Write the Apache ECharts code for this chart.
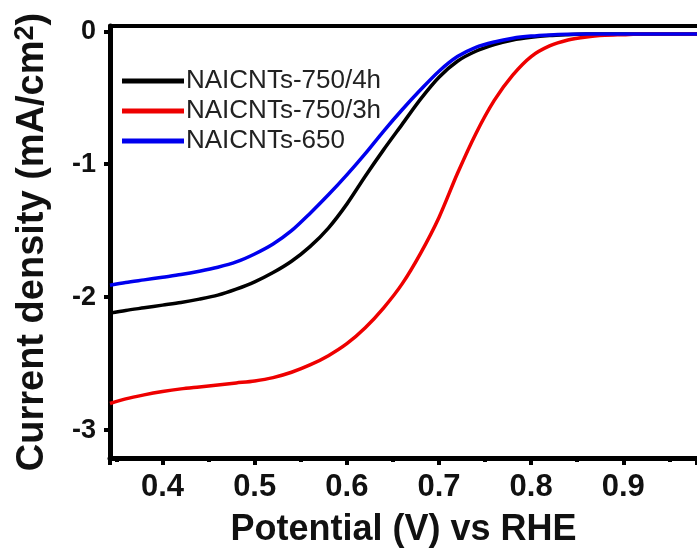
<!DOCTYPE html>
<html>
<head>
<meta charset="utf-8">
<script src="https://cdn.jsdelivr.net/npm/echarts@6/dist/echarts.min.js"></script>
<style>html,body{margin:0;padding:0;background:#fff}#c{width:697px;height:553px}</style>
</head>
<body>
<div id="c"></div>
<script>
var potential = [0.343,0.36,0.38,0.40,0.42,0.44,0.46,0.48,0.50,0.52,0.54,0.56,0.58,0.60,0.62,0.64,0.66,0.68,0.70,0.72,0.74,0.76,0.78,0.80,0.82,0.84,0.86,0.88,0.90,0.92,0.94,0.96,0.98];
var cnt750_4h = [-2.12,-2.10,-2.08,-2.06,-2.04,-2.015,-1.985,-1.94,-1.885,-1.815,-1.73,-1.62,-1.48,-1.30,-1.09,-0.89,-0.70,-0.51,-0.345,-0.225,-0.15,-0.10,-0.065,-0.045,-0.032,-0.025,-0.02,-0.02,-0.02,-0.02,-0.02,-0.02,-0.02];
var cnt750_3h = [-2.80,-2.765,-2.735,-2.71,-2.69,-2.675,-2.66,-2.645,-2.63,-2.605,-2.565,-2.51,-2.44,-2.35,-2.23,-2.08,-1.90,-1.67,-1.40,-1.07,-0.77,-0.52,-0.33,-0.19,-0.11,-0.065,-0.042,-0.03,-0.025,-0.02,-0.02,-0.02,-0.02];
var cnt650 = [-1.91,-1.89,-1.87,-1.85,-1.83,-1.805,-1.775,-1.735,-1.675,-1.60,-1.50,-1.37,-1.23,-1.08,-0.92,-0.75,-0.59,-0.44,-0.30,-0.19,-0.12,-0.08,-0.052,-0.036,-0.027,-0.022,-0.02,-0.02,-0.02,-0.02,-0.02,-0.02,-0.02];
var seriesNames = ['NAICNTs-750/4h','NAICNTs-750/3h','NAICNTs-650'];
var seriesColors = ['#000000','#ee0000','#0000ee'];
var seriesValues = [cnt750_4h, cnt750_3h, cnt650];

function pairs(ys){ return potential.map(function(x,i){ return [x, ys[i]]; }); }

var chart = echarts.init(document.getElementById('c'));
var font = 'Liberation Sans, Arial, sans-serif';
chart.setOption({
  animation: false,
  backgroundColor: '#fff',
  grid: { left: 110, right: -3, top: 26, bottom: 93 },
  legend: {
    orient: 'vertical', left: 117, top: 63, itemWidth: 62, itemHeight: 5, itemGap: 4,
    icon: 'rect',
    textStyle: { fontFamily: font, fontSize: 26, color: '#222', padding: [0,0,0,-3] },
    data: seriesNames
  },
  xAxis: [{
    type: 'value', min: 0.343, max: 0.98, splitNumber: 6,
    name: 'Potential (V) vs RHE', nameLocation: 'middle', nameGap: 54,
    nameTextStyle: { fontFamily: font, fontSize: 36, fontWeight: 'bold', color: '#111' },
    axisLine: { show: true, onZero: false, lineStyle: { color: '#000', width: 5 } },
    axisTick: { show: true, inside: false, length: 7, lineStyle: { width: 4, color: '#000' } },
    minorTick: { show: true, splitNumber: 2, length: 4, lineStyle: { width: 4, color: '#000' } },
    axisLabel: { fontFamily: font, fontSize: 31, fontWeight: 'bold', color: '#111', margin: 14, showMinLabel: false, showMaxLabel: false,
      formatter: function(v){ return v.toFixed(1); } },
    splitLine: { show: false }
  }, {
    type: 'value', position: 'top', min: 0.343, max: 0.98,
    axisLine: { show: true, onZero: false, lineStyle: { color: '#000', width: 4 } },
    axisTick: { show: false }, axisLabel: { show: false }, splitLine: { show: false }
  }],
  yAxis: {
    type: 'value', min: -3.21, max: 0.04, splitNumber: 3,
    name: 'Current density (mA/cm{sup|2})', nameLocation: 'middle', nameGap: 57,
    nameTextStyle: { fontFamily: font, fontSize: 38, fontWeight: 'bold', color: '#111',
      rich: { sup: { fontFamily: font, fontSize: 27, fontWeight: 'bold', color: '#111', verticalAlign: 'top', padding: [0,0,14,0] } } },
    axisLine: { show: true, onZero: false, lineStyle: { color: '#000', width: 5 } },
    axisTick: { show: true, inside: false, length: 6, lineStyle: { width: 4, color: '#000' } },
    axisLabel: { fontFamily: font, fontSize: 27, fontWeight: 'bold', color: '#111', margin: 14, showMinLabel: false, showMaxLabel: false,
      formatter: function(v){ return String(Math.round(v)); } },
    splitLine: { show: false }
  },
  series: seriesNames.map(function(n, i){
    return {
      name: n, type: 'line', xAxisIndex: 0, data: pairs(seriesValues[i]), showSymbol: false, smooth: 0.3,
      lineStyle: { color: seriesColors[i], width: 3.5 }, itemStyle: { color: seriesColors[i] }
    };
  })
});
</script>
</body>
</html>
